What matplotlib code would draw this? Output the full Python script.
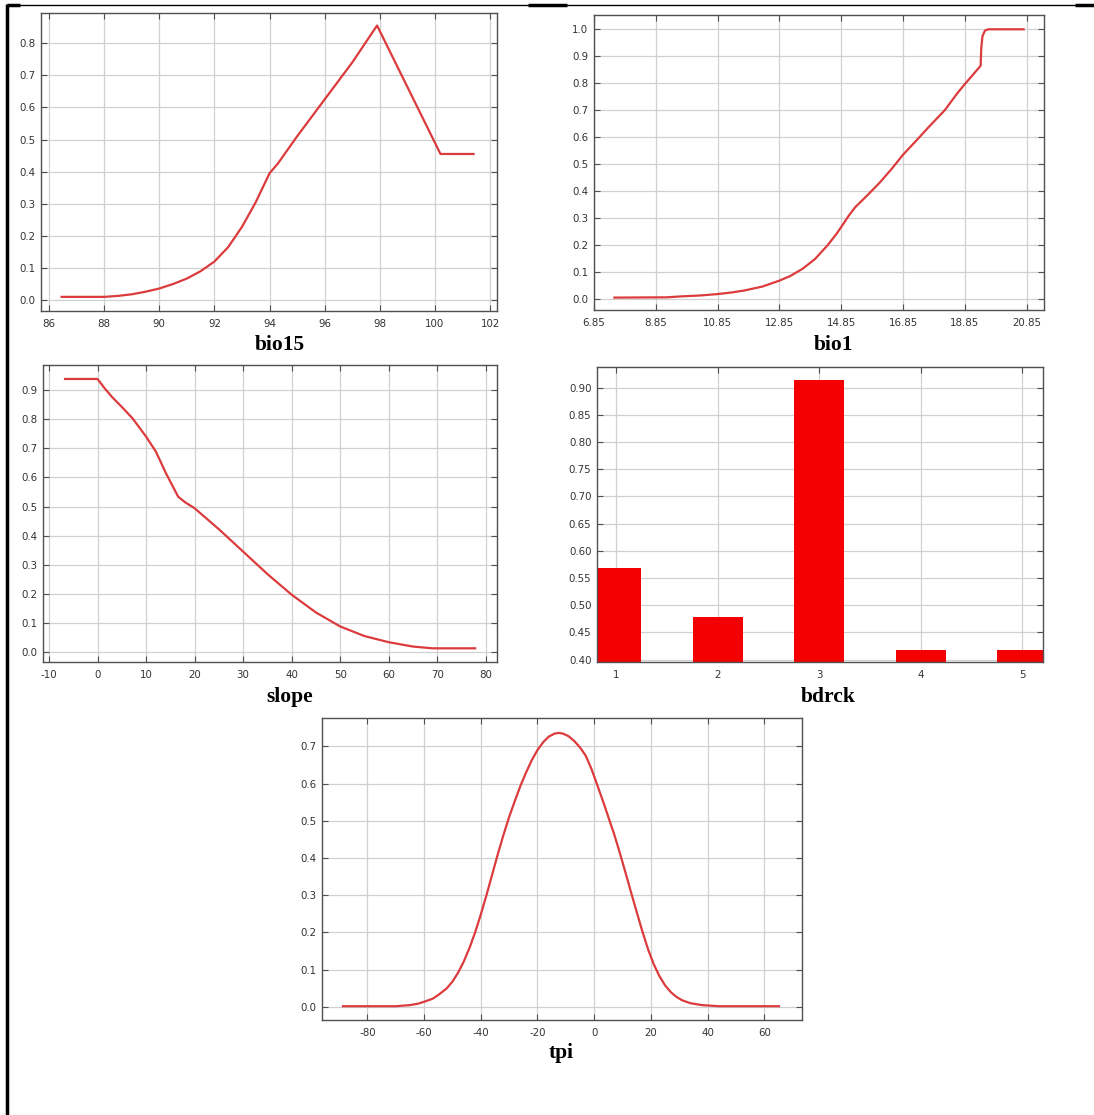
import matplotlib
matplotlib.use("Agg")
import matplotlib.pyplot as plt
from matplotlib.lines import Line2D
from matplotlib.ticker import FormatStrFormatter

plt.rcParams["axes.unicode_minus"] = False

W, H = 1094, 1115

# bio15 response
bio15_x = [86.46, 88.0, 88.5, 89.0, 89.5, 90.0, 90.5, 91.0, 91.5, 92.0, 92.5, 93.0, 93.5, 94.0, 94.3,
           95.0, 96.0, 97.0, 97.9, 100.2, 101.4]
bio15_y = [0.010, 0.010, 0.013, 0.018, 0.026, 0.036, 0.050, 0.067, 0.090, 0.120, 0.165, 0.228, 0.305, 0.395, 0.425,
           0.510, 0.625, 0.740, 0.855, 0.455, 0.455]

# bio1 response
bio1_x = [7.51, 9.2, 9.6, 10.3, 10.85, 11.3, 11.7, 12.3, 12.85, 13.2, 13.6, 14.0, 14.4, 14.7, 14.85, 15.1,
          15.3, 15.7, 16.1, 16.5, 16.85, 17.3, 17.7, 18.2, 18.6, 18.85, 19.1, 19.36, 19.38, 19.42, 19.5,
          19.6, 20.75]
bio1_y = [0.005, 0.006, 0.009, 0.013, 0.018, 0.024, 0.031, 0.046, 0.068, 0.085, 0.112, 0.148, 0.198, 0.242, 0.267, 0.310,
          0.340, 0.385, 0.432, 0.485, 0.535, 0.590, 0.640, 0.700, 0.762, 0.797, 0.830, 0.865, 0.930, 0.975, 0.995,
          1.000, 1.000]

# slope response
slope_x = [-6.7, 0.0, 1.5, 3.1, 5.0, 7.2, 10.0, 12.0, 14.1, 16.6, 18.0, 20.0, 25.0, 30.0, 35.0, 40.0, 45.0,
           50.0, 55.0, 60.0, 65.0, 69.0, 77.8]
slope_y = [0.938, 0.938, 0.905, 0.874, 0.842, 0.803, 0.740, 0.689, 0.614, 0.534, 0.515, 0.494, 0.422, 0.345, 0.268,
           0.197, 0.136, 0.088, 0.055, 0.034, 0.019, 0.013, 0.013]

# bdrck response (categorical)
bdrck_cat = [1, 2, 3, 4, 5]
bdrck_val = [0.568, 0.479, 0.915, 0.418, 0.418]

# tpi response
tpi_x = [-88.6, -70, -65, -62, -60, -57, -55, -52, -50, -48, -46, -44, -42, -40, -38, -36, -34, -32, -30,
         -28, -26, -24, -22, -20, -18, -16, -14, -12.5, -11, -9, -7, -5, -3, -1, 1, 3, 5, 7, 9, 11, 13,
         15, 17, 19, 21, 23, 25, 27, 29, 31, 34, 38, 44, 65.2]
tpi_y = [0.002, 0.002, 0.005, 0.009, 0.014, 0.022, 0.032, 0.050, 0.068, 0.092, 0.122, 0.158, 0.200, 0.248, 0.300,
         0.355, 0.410, 0.462, 0.510, 0.553, 0.594, 0.630, 0.663, 0.690, 0.711, 0.726, 0.734, 0.736, 0.734, 0.727,
         0.714, 0.697, 0.675, 0.640, 0.598, 0.555, 0.510, 0.465, 0.415, 0.362, 0.308, 0.255, 0.203, 0.155, 0.115,
         0.083, 0.058, 0.040, 0.027, 0.018, 0.010, 0.005, 0.002, 0.002]

LINE_RED = "#dc3b3d"
BAR_RED = "#f50000"


def make_axes(fig, left, top, right, bottom):
    ax = fig.add_axes([left / W, 1 - bottom / H, (right - left) / W, (bottom - top) / H])
    ax.grid(True, color="#d0d0d0", lw=0.9)
    ax.set_axisbelow(True)
    for s in ax.spines.values():
        s.set_color("#505050")
        s.set_linewidth(1.0)
    ax.tick_params(direction="in", length=4, width=0.8, color="#505050",
                   top=True, right=True, labelsize=7.4, labelcolor="#333333")
    ax.tick_params(axis="x", pad=6)
    ax.tick_params(axis="y", pad=4)
    return ax


def label(fig, text, x, y):
    fig.text(x / W, 1 - y / H, text, ha="center", va="center",
             family="Liberation Serif", weight="bold", fontsize=15.5)


fig = plt.figure(figsize=(W / 100, H / 100), dpi=100)

# bio15
ax = make_axes(fig, 41, 13, 497, 311)
ax.plot(bio15_x, bio15_y, color=LINE_RED, lw=1.6)
ax.set_xlim(85.71, 102.25)
ax.set_ylim(-0.034, 0.894)
ax.set_xticks(range(86, 103, 2))
ax.set_yticks([i / 10 for i in range(9)])
ax.yaxis.set_major_formatter(FormatStrFormatter("%.1f"))
label(fig, "bio15", 280, 345)

# bio1
ax = make_axes(fig, 594, 15, 1044, 310)
ax.plot(bio1_x, bio1_y, color=LINE_RED, lw=1.6)
ax.set_xlim(6.85, 21.41)
ax.set_ylim(-0.041, 1.053)
ax.set_xticks([6.85 + 2 * i for i in range(8)])
ax.xaxis.set_major_formatter(FormatStrFormatter("%.2f"))
ax.set_yticks([i / 10 for i in range(11)])
ax.yaxis.set_major_formatter(FormatStrFormatter("%.1f"))
label(fig, "bio1", 833, 345)

# slope
ax = make_axes(fig, 43, 365, 497, 662)
ax.plot(slope_x, slope_y, color=LINE_RED, lw=1.6)
ax.set_xlim(-11.24, 82.3)
ax.set_ylim(-0.034, 0.986)
ax.set_xticks(range(-10, 81, 10))
ax.set_yticks([i / 10 for i in range(10)])
ax.yaxis.set_major_formatter(FormatStrFormatter("%.1f"))
label(fig, "slope", 290, 697)

# bdrck
ax = make_axes(fig, 597, 367, 1043, 662)
ax.bar(bdrck_cat, [v - 0.3957 for v in bdrck_val], bottom=0.3957, width=0.49, color=BAR_RED)
ax.set_xlim(0.81, 5.206)
ax.set_ylim(0.3957, 0.938)
ax.set_xticks(bdrck_cat)
ax.set_yticks([0.40 + 0.05 * i for i in range(11)])
ax.yaxis.set_major_formatter(FormatStrFormatter("%.2f"))
label(fig, "bdrck", 828, 697)

# tpi
ax = make_axes(fig, 322, 718, 802, 1020)
ax.plot(tpi_x, tpi_y, color=LINE_RED, lw=1.6)
ax.set_xlim(-96.0, 73.3)
ax.set_ylim(-0.035, 0.776)
ax.set_xticks(range(-80, 61, 20))
ax.set_yticks([i / 10 for i in range(8)])
ax.yaxis.set_major_formatter(FormatStrFormatter("%.1f"))
label(fig, "tpi", 561, 1053)


# page border (table lines)
def fig_line(x0, y0, x1, y1, lw):
    fig.add_artist(Line2D([x0 / W, x1 / W], [1 - y0 / H, 1 - y1 / H], color="black", lw=lw,
                          transform=fig.transFigure, solid_capstyle="butt"))


fig_line(7, 5, 1094, 5, 1.0)
fig_line(7, 5, 20, 5, 2.5)
fig_line(528, 5, 567, 5, 2.5)
fig_line(1075, 5, 1094, 5, 2.5)
fig_line(7, 4, 7, 1115, 2.5)

fig.savefig("out.png", dpi=100)
